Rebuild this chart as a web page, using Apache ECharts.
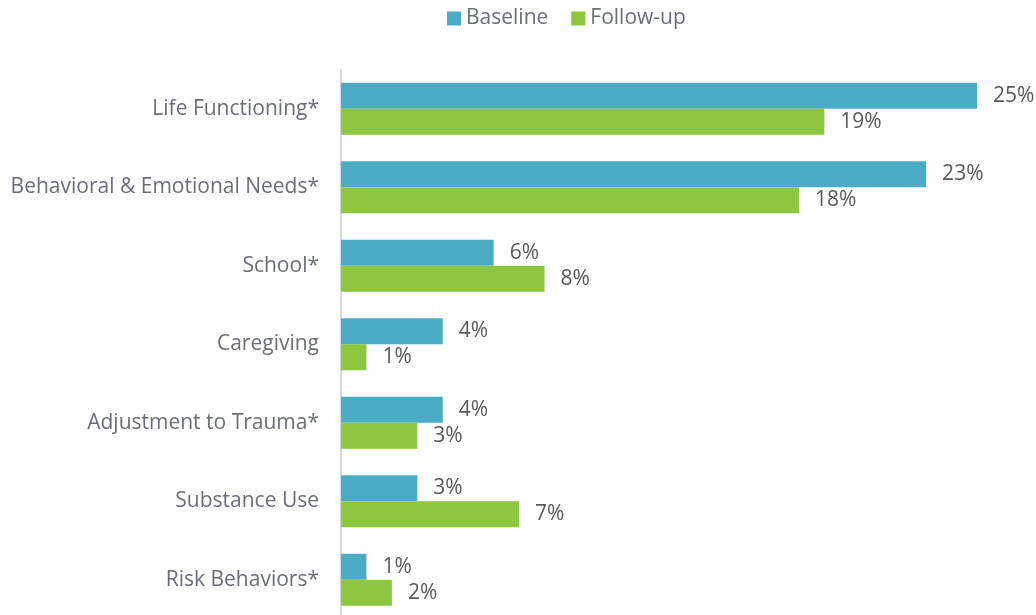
<!DOCTYPE html>
<html>
<head>
<meta charset="utf-8">
<script src="https://cdn.jsdelivr.net/npm/echarts@6/dist/echarts.min.js"></script>
<style>html,body{margin:0;padding:0;background:#fff;overflow:hidden;}#c{width:1036px;height:620px;}</style>
</head>
<body>
<div id="c"></div>
<script>
const categories = ["Life Functioning*", "Behavioral & Emotional Needs*", "School*", "Caregiving", "Adjustment to Trauma*", "Substance Use", "Risk Behaviors*"];
const baseline = [25, 23, 6, 4, 4, 3, 1];
const followUp = [19, 18, 8, 1, 3, 7, 2];
const seriesNames = ["Baseline", "Follow-up"];

const chart = echarts.init(document.getElementById('c'), null, {renderer: 'canvas'});
const font = '"Open Sans", sans-serif';
const labelOpt = {show: true, position: 'right', distance: 16, padding: [3, 0, 0, 0], formatter: p => p.value + '%', color: '#595959', fontSize: 21, fontFamily: font};
chart.setOption({
  animation: false,
  textStyle: {fontFamily: font},
  legend: {
    top: 3, left: 442, itemWidth: 14, itemHeight: 14, itemGap: 23,
    icon: 'rect',
    textStyle: {color: '#6b6e78', fontSize: 21, fontFamily: font},
    data: seriesNames
  },
  grid: {left: 341, right: 59, top: 69.5, bottom: 1, containLabel: false},
  xAxis: {type: 'value', min: 0, max: 25, show: false},
  yAxis: {
    type: 'category', data: categories, inverse: true,
    axisLine: {show: true, lineStyle: {color: '#d9d9d9', width: 2}},
    axisTick: {show: false},
    axisLabel: {color: '#6b6e78', fontSize: 21, fontFamily: font, margin: 22, padding: [3, 0, 0, 0]}
  },
  series: [
    {name: seriesNames[0], type: 'bar', data: baseline, barWidth: 26, barGap: '0%', itemStyle: {color: '#4bacc6'}, label: labelOpt},
    {name: seriesNames[1], type: 'bar', data: followUp, barWidth: 26, barGap: '0%', itemStyle: {color: '#8dc63f'}, label: labelOpt}
  ]
});
</script>
</body>
</html>
